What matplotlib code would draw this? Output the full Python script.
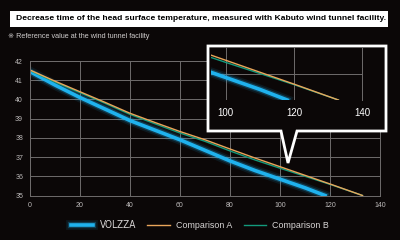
import matplotlib
matplotlib.use("Agg")
import matplotlib.pyplot as plt
import matplotlib.patheffects as pe
from matplotlib.patches import Polygon, Rectangle
from matplotlib.lines import Line2D

# data
time_v = [0, 10, 20, 30, 40, 50, 60, 70, 80, 90, 100, 110, 118]
volzza = [41.45, 40.75, 40.1, 39.5, 38.9, 38.4, 37.9, 37.35, 36.8, 36.3, 35.85, 35.4, 35.0]
time_a = [0, 10, 20, 30, 40, 50, 60, 70, 80, 90, 100, 110, 120, 133]
comp_a = [41.53, 40.95, 40.4, 39.85, 39.28, 38.8, 38.33, 37.9, 37.42, 36.95, 36.5, 36.05, 35.6, 35.0]
comp_b = [41.5, 40.9, 40.35, 39.8, 39.22, 38.73, 38.25, 37.82, 37.32, 36.85, 36.42, 36.0, 35.58, 35.0]

x_ticks = [0, 20, 40, 60, 80, 100, 120, 140]
y_ticks = [35, 36, 37, 38, 39, 40, 41, 42]
inset_ticks = [100, 120, 140]

title = "Decrease time of the head surface temperature, measured with Kabuto wind tunnel facility."
note = "※ Reference value at the wind tunnel facility"
labels = ["VOLZZA", "Comparison A", "Comparison B"]

bg = "#0b0707"
blue = "#1fb2ee"
orange = "#e9a55a"
green = "#139a7c"
grid_c = "#6f6c6c"

plt.rcParams["font.family"] = ["Liberation Sans", "DejaVu Sans"]

W, H = 400, 240


def fx(px):
    return px / W


def fy(py):
    return 1 - py / H


glow = [pe.Stroke(linewidth=7, foreground=blue, alpha=0.1),
        pe.Stroke(linewidth=4.5, foreground=blue, alpha=0.25),
        pe.Normal()]

fig = plt.figure(figsize=(4, 2.4), dpi=100, facecolor=bg)


def draw_lines(ax):
    ax.plot(time_v, volzza, color=blue, lw=2.6, path_effects=glow)
    ax.plot(time_a, comp_b, color=green, lw=1.0)
    ax.plot(time_a, comp_a, color=orange, lw=1.0)


ax = fig.add_axes([fx(30), fy(195.5), fx(350), 134.5 / H])
ax.set_facecolor(bg)
draw_lines(ax)
ax.set_xlim(0, 140)
ax.set_ylim(35, 42)
ax.set_xticks(x_ticks)
ax.set_yticks(y_ticks)
ax.grid(True, color=grid_c, lw=0.7)
ax.tick_params(length=0, labelsize=5, colors="#bdbaba", pad=5)
for s in ax.spines.values():
    s.set_color(grid_c)
    s.set_linewidth(0.7)

# callout box
pts = [(208, 46), (386, 46), (386, 131), (297, 131), (288, 163),
       (281, 131), (208, 131)]
callout = Polygon([(fx(a), fy(b)) for a, b in pts], closed=True,
                  transform=fig.transFigure, facecolor=bg, edgecolor="white",
                  lw=2, zorder=1, joinstyle="miter")
fig.add_artist(callout)

ins = fig.add_axes([fx(211), fy(100), fx(151.3), 53 / H], zorder=2)
ins.set_facecolor(bg)
draw_lines(ins)
ins.set_xlim(95.7, 140)
ins.set_ylim(35, 37)
ins.set_xticks(inset_ticks)
ins.set_yticks([35, 36, 37])
ins.set_yticklabels([])
ins.grid(True, color=grid_c, lw=0.7)
ins.tick_params(length=0, labelsize=7, colors="white", pad=6)
for k, s in ins.spines.items():
    s.set_visible(k == "right")
    s.set_color(grid_c)
    s.set_linewidth(0.7)

# title box
fig.add_artist(Rectangle((fx(10), fy(27)), fx(378), 16 / H, transform=fig.transFigure,
                         facecolor="white", edgecolor="none"))
fig.text(fx(201), fy(19), title, ha="center", va="center", fontsize=6.1,
         color="black", fontweight="bold")
fig.text(fx(8), fy(37), note, ha="left", va="center", fontsize=5.2, color="#cfcccc")

handles = [Line2D([], [], color=blue, lw=2.6, path_effects=glow),
           Line2D([], [], color=orange, lw=1.0),
           Line2D([], [], color=green, lw=1.0)]
leg = fig.legend(handles, labels, loc="center", bbox_to_anchor=(fx(200), fy(225)),
                 ncol=3, frameon=False, fontsize=6.4, handlelength=2.5,
                 handletextpad=0.7, columnspacing=1.3, labelcolor="#d8d5d5")
leg.get_texts()[0].set_family("DejaVu Sans")
leg.get_texts()[0].set_fontstretch("condensed")
leg.get_texts()[0].set_fontsize(7.2)

fig.savefig("out.png", facecolor=bg, dpi=100)
